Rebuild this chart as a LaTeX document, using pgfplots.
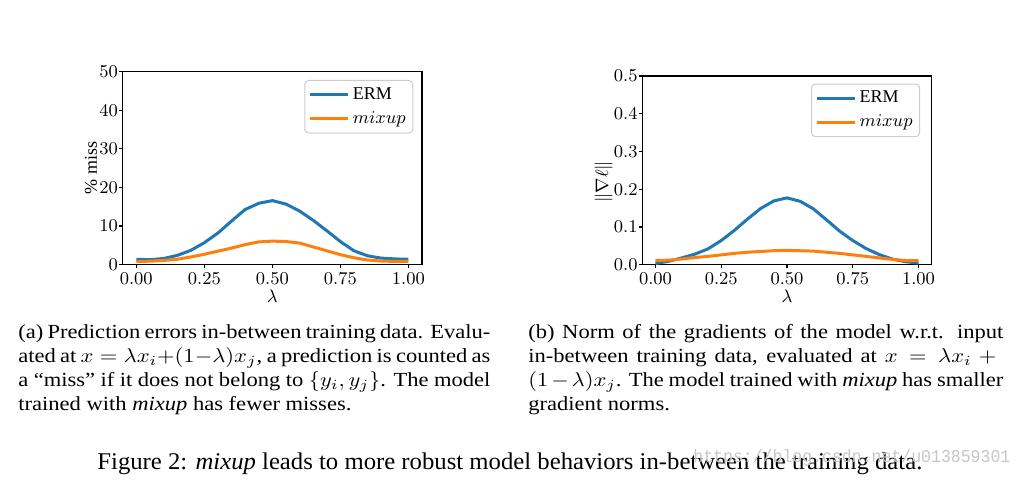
\documentclass[border=0pt]{standalone}
\usepackage{fontspec}
\setmainfont{Liberation Serif}
\setmonofont{Liberation Mono}
\usepackage{pgfplots}
\pgfplotsset{compat=1.18}
\definecolor{c0}{HTML}{1F77B4}
\definecolor{c1}{HTML}{FF7F0E}
\pgfplotsset{
  mystyle/.style={
    scale only axis,
    anchor=south west,
    font=\fontsize{9}{10}\selectfont,
    xmin=-0.05, xmax=1.05,
    xtick={0,0.25,0.5,0.75,1},
    tick align=outside,
    xtick pos=left, ytick pos=left,
    major tick length=1.8pt,
    axis line style={line width=0.6pt},
    every tick/.style={black, line width=0.6pt},
    yticklabel style={inner xsep=0.4pt},
    xticklabel style={inner ysep=2pt, /pgf/number format/.cd,fixed,fixed zerofill,precision=2},
    xlabel={$\lambda$},
    legend cell align=left,
    legend image code/.code={\draw[#1] (0pt,0pt) -- (19pt,0pt);},
    legend style={anchor=north east, draw=black!20, line width=0.5pt, rounded corners=2pt, fill=white,
      font=\fontsize{9}{10}\selectfont, inner xsep=2pt, inner ysep=2pt, row sep=1.5pt,
      nodes={inner sep=1.5pt},
      /tikz/every even column/.append style={column sep=2.5pt}},
  }
}
\begin{document}
\begin{tikzpicture}
\path[use as bounding box, fill=white] (0pt,0pt) rectangle (512pt,248pt);
% left axis
\begin{axis}[mystyle, at={(61.35pt,115.65pt)}, width=149.65pt, height=96.5pt,
  ymin=0, ymax=50, ytick={0,10,20,30,40,50},
  ylabel={$\%\ \mathrm{miss}$},
  ylabel style={at={(axis description cs:-0.106,0.5)}, anchor=center},
  xlabel style={at={(axis description cs:0.5,-0.162)}, anchor=center},
  legend style={at={(0.971,0.957)}}]
\addplot[c0, line width=1.5pt, line join=round] coordinates {
(0,1.4) (0.05,1.3) (0.1,1.6) (0.15,2.4) (0.2,3.7) (0.25,5.7) (0.3,8.2) (0.35,11.3) (0.4,14.3) (0.45,15.9) (0.5,16.6) (0.55,15.7) (0.6,13.9) (0.65,11.5) (0.7,8.8) (0.75,6.0) (0.8,3.6) (0.85,2.3) (0.9,1.7) (0.95,1.5) (1.0,1.4)};
\addlegendentry{$\mathrm{ERM}$}
\addplot[c1, line width=1.5pt, line join=round] coordinates {
(0,0.86) (0.05,0.9) (0.1,1.1) (0.15,1.4) (0.2,2.0) (0.25,2.7) (0.3,3.5) (0.35,4.3) (0.4,5.2) (0.45,5.9) (0.5,6.1) (0.55,6.0) (0.6,5.6) (0.65,4.6) (0.7,3.6) (0.75,2.6) (0.8,1.8) (0.85,1.2) (0.9,0.95) (0.95,0.85) (1.0,0.85)};
\addlegendentry{$mixup$}
\end{axis}
% right axis
\begin{axis}[mystyle, at={(321.15pt,115.65pt)}, width=144.7pt, height=94.35pt,
  ymin=0, ymax=0.5, ytick={0,0.1,0.2,0.3,0.4,0.5},
  yticklabel style={/pgf/number format/.cd,fixed,fixed zerofill,precision=1},
  ylabel={$\|\nabla\ell\|$},
  ylabel style={at={(axis description cs:-0.134,0.44)}, anchor=center},
  xlabel style={at={(axis description cs:0.5,-0.166)}, anchor=center},
  legend style={at={(0.96,0.96)}}]
\addplot[c0, line width=1.5pt, line join=round] coordinates {
(0,0.003) (0.05,0.009) (0.1,0.018) (0.15,0.028) (0.2,0.042) (0.25,0.064) (0.3,0.091) (0.35,0.121) (0.4,0.149) (0.45,0.169) (0.5,0.177) (0.55,0.168) (0.6,0.148) (0.65,0.119) (0.7,0.089) (0.75,0.064) (0.8,0.043) (0.85,0.027) (0.9,0.015) (0.95,0.008) (1.0,0.004)};
\addlegendentry{$\mathrm{ERM}$}
\addplot[c1, line width=1.5pt, line join=round] coordinates {
(0,0.011) (0.05,0.012) (0.1,0.015) (0.15,0.019) (0.2,0.022) (0.25,0.026) (0.3,0.030) (0.35,0.033) (0.4,0.035) (0.45,0.037) (0.5,0.038) (0.55,0.037) (0.6,0.036) (0.65,0.033) (0.7,0.030) (0.75,0.026) (0.8,0.022) (0.85,0.018) (0.9,0.014) (0.95,0.011) (1.0,0.011)};
\addlegendentry{$mixup$}
\end{axis}
% sub-captions
\node[anchor=north west, inner sep=0pt] at (9pt,86pt) {\resizebox{236pt}{\height}{\parbox[t]{209.4pt}{\fontsize{10}{12}\selectfont
\setlength\parindent{0pt}(a) Prediction errors in-between training data. Evalu-\linebreak
ated at $x = \lambda x_i{+}(1{-}\lambda)x_j$, a prediction is counted as\linebreak
a ``miss'' if it does not belong to $\{y_i,y_j\}$. The model\linebreak
trained with \emph{mixup} has fewer misses.}}};
\node[anchor=north west, inner sep=0pt] at (264pt,86pt) {\resizebox{237.5pt}{\height}{\parbox[t]{210.7pt}{\fontsize{10}{12}\selectfont
\setlength\parindent{0pt}(b) Norm of the gradients of the model w.r.t. input\linebreak
in-between training data, evaluated at $x = \lambda x_i +{}$\linebreak
$(1-\lambda)x_j$. The model trained with \emph{mixup} has smaller\linebreak
gradient norms.}}};
% figure caption
\node[anchor=base west, inner sep=0pt] at (48.5pt,13pt) {\resizebox{412.5pt}{\height}{\fontsize{12}{14}\selectfont Figure 2: \emph{mixup} leads to more robust model behaviors in-between the training data.}};
% watermark
\node[anchor=base west, inner sep=0pt, text=black!22] at (346.5pt,16.5pt) {\resizebox{158.5pt}{\height}{\fontsize{9}{10}\ttfamily https://blog.csdn.net/u013859301}};
\end{tikzpicture}
\end{document}
